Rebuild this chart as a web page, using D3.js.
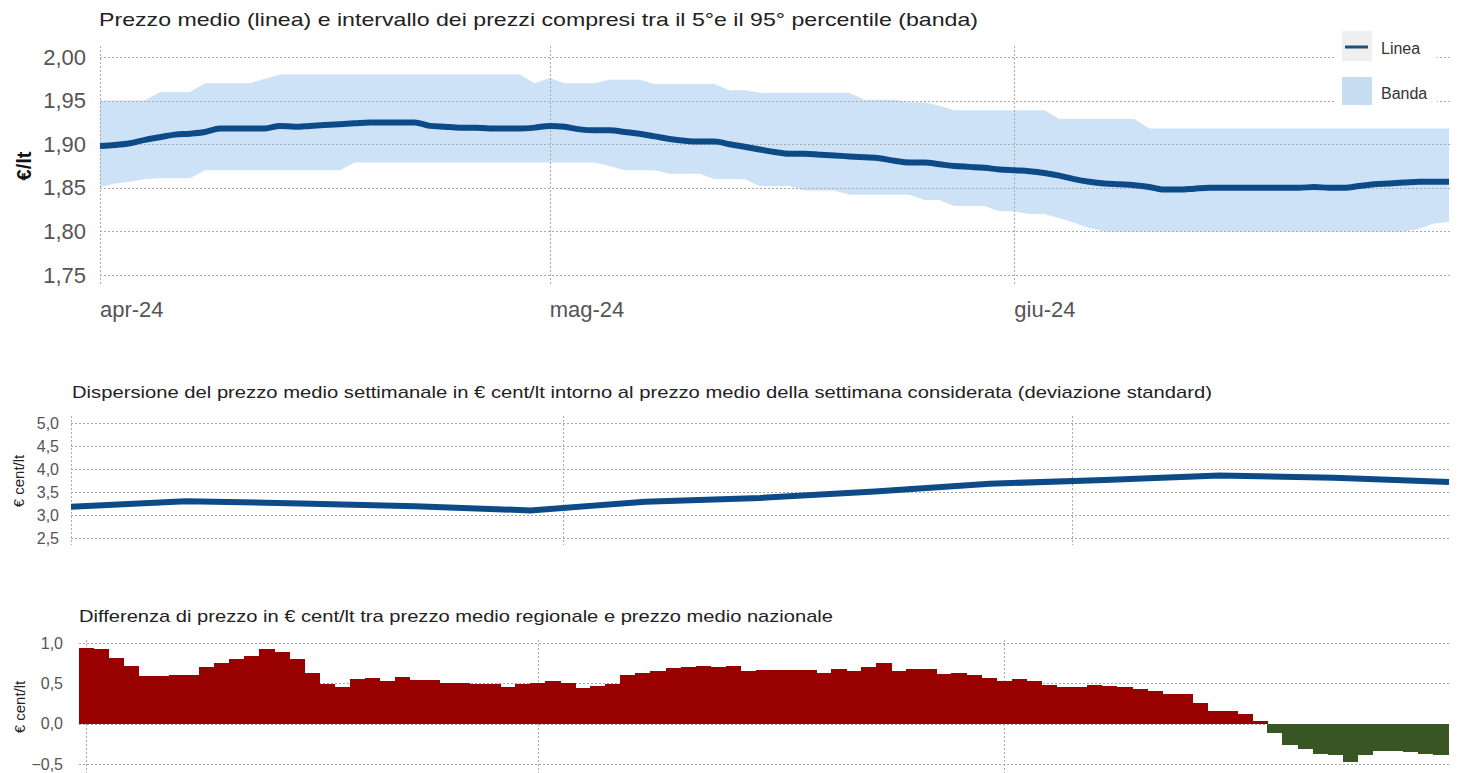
<!DOCTYPE html>
<html>
<head>
<meta charset="utf-8">
<script src="https://cdn.jsdelivr.net/npm/d3@7"></script>
<style>
  body { margin: 0; background: #fff; }
  svg { display: block; font-family: "Liberation Sans", Arial, sans-serif; }
</style>
</head>
<body>
<svg id="chart" width="1459" height="773"></svg>
<script>
// ---- data ----
// daily dates 1 apr - 30 giu 2024
var days = d3.timeDay.range(new Date(2024, 3, 1), new Date(2024, 6, 1));
// weekly dates (mondays) 1 apr - 24 giu
var weeks = d3.timeMonday.range(new Date(2024, 3, 1), new Date(2024, 5, 25));

var monthTicks = [new Date(2024, 3, 1), new Date(2024, 4, 1), new Date(2024, 5, 1)];
var monthLabels = ["apr-24", "mag-24", "giu-24"];

// prezzo medio (linea), €/lt
var prezzoMedio = [
  1.898, 1.899, 1.901, 1.905, 1.908, 1.911, 1.912, 1.914, 1.918, 1.918,
  1.918, 1.918, 1.921, 1.920, 1.921, 1.922, 1.923, 1.924, 1.925, 1.925,
  1.925, 1.925, 1.921, 1.920, 1.919, 1.919, 1.918, 1.918, 1.918, 1.919,
  1.921, 1.920, 1.917, 1.916, 1.916, 1.914, 1.912, 1.909, 1.906, 1.904,
  1.903, 1.903, 1.900, 1.897, 1.894, 1.891, 1.889, 1.889, 1.888, 1.887,
  1.886, 1.885, 1.884, 1.881, 1.879, 1.879, 1.877, 1.875, 1.874, 1.873,
  1.871, 1.870, 1.869, 1.867, 1.864, 1.860, 1.857, 1.855, 1.854, 1.853,
  1.851, 1.848, 1.848, 1.849, 1.850, 1.850, 1.850, 1.850, 1.850, 1.850,
  1.850, 1.851, 1.850, 1.850, 1.852, 1.854, 1.855, 1.856, 1.857, 1.857,
  1.857
];
// 95° percentile
var p95 = [
  1.950, 1.950, 1.950, 1.950, 1.960, 1.960, 1.960, 1.970, 1.970, 1.970,
  1.970, 1.975, 1.980, 1.980, 1.980, 1.980, 1.980, 1.980, 1.980, 1.980,
  1.980, 1.980, 1.980, 1.980, 1.980, 1.980, 1.980, 1.980, 1.980, 1.970,
  1.976, 1.970, 1.970, 1.970, 1.974, 1.974, 1.974, 1.969, 1.969, 1.969,
  1.969, 1.969, 1.962, 1.962, 1.959, 1.959, 1.959, 1.959, 1.959, 1.959,
  1.959, 1.951, 1.951, 1.951, 1.948, 1.948, 1.944, 1.939, 1.939, 1.939,
  1.939, 1.939, 1.939, 1.939, 1.929, 1.929, 1.929, 1.929, 1.929, 1.929,
  1.918, 1.918, 1.918, 1.918, 1.918, 1.918, 1.918, 1.918, 1.918, 1.918,
  1.918, 1.918, 1.918, 1.918, 1.918, 1.918, 1.918, 1.918, 1.918, 1.918,
  1.918
];
// 5° percentile
var p5 = [
  1.851, 1.855, 1.857, 1.860, 1.861, 1.861, 1.861, 1.870, 1.870, 1.870,
  1.870, 1.870, 1.870, 1.870, 1.870, 1.870, 1.870, 1.879, 1.879, 1.879,
  1.879, 1.879, 1.879, 1.879, 1.879, 1.879, 1.879, 1.879, 1.879, 1.879,
  1.879, 1.879, 1.879, 1.879, 1.875, 1.870, 1.870, 1.870, 1.866, 1.866,
  1.866, 1.860, 1.860, 1.860, 1.852, 1.852, 1.852, 1.847, 1.847, 1.847,
  1.842, 1.842, 1.842, 1.842, 1.842, 1.836, 1.836, 1.829, 1.829, 1.829,
  1.823, 1.823, 1.820, 1.820, 1.815, 1.810, 1.804, 1.800, 1.800, 1.800,
  1.800, 1.800, 1.800, 1.800, 1.800, 1.800, 1.800, 1.800, 1.800, 1.800,
  1.800, 1.800, 1.800, 1.800, 1.800, 1.800, 1.800, 1.800, 1.803, 1.809,
  1.811
];

// deviazione standard settimanale, € cent/lt
var devStd = [3.18, 3.30, 3.25, 3.19, 3.10, 3.29, 3.37, 3.51, 3.68, 3.76, 3.86, 3.81, 3.72];

// differenza prezzo regionale - nazionale, € cent/lt
var differenza = [
  0.94, 0.92, 0.82, 0.72, 0.59, 0.59, 0.60, 0.60, 0.70, 0.75,
  0.80, 0.84, 0.92, 0.89, 0.80, 0.63, 0.49, 0.46, 0.55, 0.57,
  0.53, 0.58, 0.54, 0.54, 0.51, 0.51, 0.49, 0.49, 0.46, 0.49,
  0.50, 0.53, 0.50, 0.44, 0.47, 0.49, 0.60, 0.63, 0.65, 0.69,
  0.70, 0.71, 0.70, 0.72, 0.65, 0.67, 0.67, 0.67, 0.67, 0.63,
  0.68, 0.65, 0.70, 0.75, 0.65, 0.68, 0.68, 0.62, 0.63, 0.60,
  0.57, 0.53, 0.55, 0.53, 0.48, 0.45, 0.45, 0.48, 0.47, 0.46,
  0.43, 0.40, 0.37, 0.37, 0.26, 0.16, 0.16, 0.12, 0.03, -0.12,
  -0.26, -0.31, -0.38, -0.39, -0.48, -0.39, -0.34, -0.34, -0.35, -0.38,
  -0.39
];

var topYTicks = [1.75, 1.80, 1.85, 1.90, 1.95, 2.00];
var midYTicks = [2.5, 3.0, 3.5, 4.0, 4.5, 5.0];
var botYTicks = [-0.5, 0.0, 0.5, 1.0];

var it = d3.formatLocale({decimal: ",", thousands: ".", grouping: [3], currency: ["€", ""]});
var fmt2 = it.format(".2f"), fmt1 = it.format(".1f");

var svg = d3.select("#chart");
var gridColor = "#aaaaaa";
var blue = "#0d4a88";

function hGrid(g, yScale, ticks, x0, x1) {
  g.selectAll(".hg").data(ticks).enter().append("line")
    .attr("x1", x0).attr("x2", x1)
    .attr("y1", function(d) { return Math.round(yScale(d)) + 0.5; })
    .attr("y2", function(d) { return Math.round(yScale(d)) + 0.5; })
    .attr("stroke", gridColor).attr("stroke-width", 1)
    .attr("stroke-dasharray", "2,2");
}
function vGrid(g, xs, y0, y1) {
  g.selectAll(".vg").data(xs).enter().append("line")
    .attr("x1", function(d) { return Math.round(d) + 0.5; })
    .attr("x2", function(d) { return Math.round(d) + 0.5; })
    .attr("y1", y0).attr("y2", y1)
    .attr("stroke", gridColor).attr("stroke-width", 1)
    .attr("stroke-dasharray", "2,2");
}
function yAxis(g, yScale, ticks, x, fmt, size) {
  var ax = d3.axisLeft(yScale).tickValues(ticks).tickSize(0).tickPadding(0).tickFormat(fmt);
  var a = g.append("g").attr("transform", "translate(" + x + ",0)").call(ax);
  a.select(".domain").remove();
  a.selectAll("text").attr("fill", "#555").style("font-size", size + "px")
    .style("font-family", "'Liberation Sans', Arial, sans-serif");
}
// titles in the original are rendered wider, stretch to the measured width
function title(g, x, y, size, w, txt) {
  g.append("text").attr("x", x).attr("y", y)
    .style("font-size", size + "px").attr("fill", "#222")
    .attr("textLength", w).attr("lengthAdjust", "spacingAndGlyphs")
    .text(txt);
}

// ================= top chart =================
var topG = svg.append("g");
var x1 = d3.scaleTime().domain([days[0], days[days.length - 1]]).range([100, 1449]);
var y1 = d3.scaleLinear().domain([1.75, 2.00]).range([275, 57]);

title(topG, 99, 26, 18.5, 879,
  "Prezzo medio (linea) e intervallo dei prezzi compresi tra il 5°e il 95° percentile (banda)");

var area = d3.area()
  .x(function(d, i) { return x1(days[i]); })
  .y0(function(d, i) { return y1(p5[i]); })
  .y1(function(d, i) { return y1(p95[i]); });
topG.append("path").datum(p95).attr("d", area).attr("fill", "#cde2f7");

hGrid(topG, y1, topYTicks, 100, 1450);
vGrid(topG, monthTicks.map(x1), 46, 285);

var line1 = d3.line()
  .x(function(d, i) { return x1(days[i]); })
  .y(function(d) { return y1(d); })
  .curve(d3.curveMonotoneX);
topG.append("path").datum(prezzoMedio).attr("d", line1)
  .attr("fill", "none").attr("stroke", blue).attr("stroke-width", 6)
  .attr("stroke-linejoin", "round");

yAxis(topG, y1, topYTicks, 86, fmt2, 22);

topG.selectAll(".ml").data(monthTicks).enter().append("text")
  .attr("x", function(d) { return x1(d); }).attr("y", 317)
  .style("font-size", "22px").attr("fill", "#555")
  .text(function(d, i) { return monthLabels[i]; });

topG.append("text").attr("transform", "translate(31,166) rotate(-90)")
  .attr("text-anchor", "middle").style("font-size", "20px").style("font-weight", "bold")
  .attr("fill", "#111").text("€/lt");

// legend
var leg = topG.append("g");
leg.append("rect").attr("x", 1335).attr("y", 28).attr("width", 102).attr("height", 84).attr("fill", "#fff");
leg.append("rect").attr("x", 1342).attr("y", 31).attr("width", 30).attr("height", 30).attr("fill", "#efefef");
leg.append("line").attr("x1", 1345).attr("x2", 1368).attr("y1", 47).attr("y2", 47)
  .attr("stroke", "#1f4e79").attr("stroke-width", 3);
leg.append("text").attr("x", 1381).attr("y", 54).style("font-size", "16px").attr("fill", "#333").text("Linea");
leg.append("rect").attr("x", 1342).attr("y", 77).attr("width", 30).attr("height", 28).attr("fill", "#c6dcf1");
leg.append("text").attr("x", 1381).attr("y", 99).style("font-size", "16px").attr("fill", "#333").text("Banda");

// ================= middle chart =================
var midG = svg.append("g");
var x2 = d3.scaleTime().domain([weeks[0], weeks[weeks.length - 1]]).range([71, 1449]);
var y2 = d3.scaleLinear().domain([2.5, 5.0]).range([538, 423]);

title(midG, 72, 398, 17, 1140,
  "Dispersione del prezzo medio settimanale in € cent/lt intorno al prezzo medio della settimana considerata (deviazione standard)");

hGrid(midG, y2, midYTicks, 71, 1450);
vGrid(midG, monthTicks.map(x2), 416, 545);

var line2 = d3.line()
  .x(function(d, i) { return x2(weeks[i]); })
  .y(function(d) { return y2(d); });
midG.append("path").datum(devStd).attr("d", line2)
  .attr("fill", "none").attr("stroke", blue).attr("stroke-width", 6)
  .attr("stroke-linejoin", "round");

yAxis(midG, y2, midYTicks, 59, fmt1, 16);
midG.append("text").attr("transform", "translate(24,481) rotate(-90)")
  .attr("text-anchor", "middle").style("font-size", "15px").attr("fill", "#222").text("€ cent/lt");

// ================= bottom chart =================
var botG = svg.append("g");
var x3 = d3.scaleBand().domain(days).range([78.7, 1448]).padding(0);
var y3 = d3.scaleLinear().domain([-0.5, 1.0]).range([764, 643]);

title(botG, 79, 622, 17, 754,
  "Differenza di prezzo in € cent/lt tra prezzo medio regionale e prezzo medio nazionale");

hGrid(botG, y3, botYTicks, 79, 1450);
vGrid(botG, monthTicks.map(function(d) { return x3(d) + x3.bandwidth() / 2; }), 640, 773);

botG.selectAll(".bar").data(differenza).enter().append("rect")
  .attr("x", function(d, i) { return x3(days[i]); })
  .attr("width", x3.bandwidth() + 0.5)
  .attr("y", function(d) { return y3(Math.max(0, d)); })
  .attr("height", function(d) { return Math.abs(y3(d) - y3(0)); })
  .attr("fill", function(d) { return d >= 0 ? "#990000" : "#375623"; })
  .attr("shape-rendering", "crispEdges");

yAxis(botG, y3, botYTicks, 63, fmt1, 16);
botG.append("text").attr("transform", "translate(25,707) rotate(-90)")
  .attr("text-anchor", "middle").style("font-size", "15px").attr("fill", "#222").text("€ cent/lt");
</script>
</body>
</html>
